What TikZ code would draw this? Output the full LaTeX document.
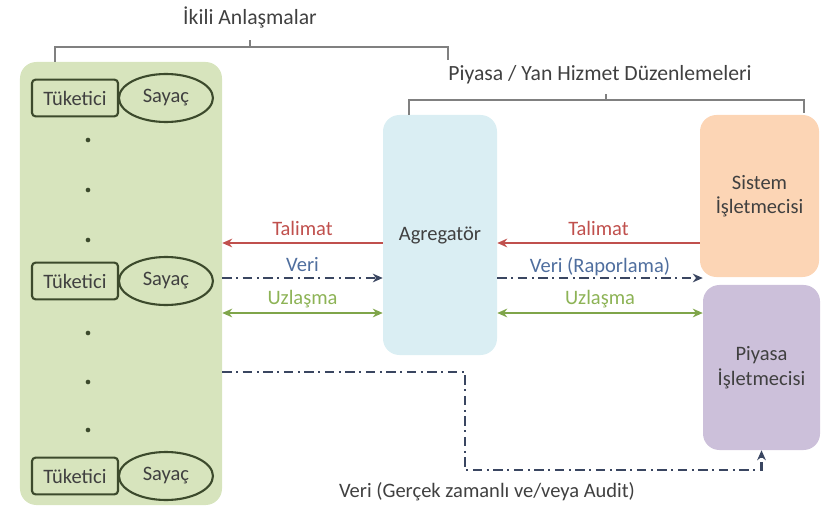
\documentclass[tikz,border=0pt]{standalone}
\usepackage{fontspec}
\setmainfont{Carlito}
\usetikzlibrary{arrows.meta, shapes.geometric, positioning}
\definecolor{grpfill}{HTML}{D7E4BD}
\definecolor{dkolive}{HTML}{3C4A2C}
\definecolor{agrfill}{HTML}{DAEEF3}
\definecolor{sisfill}{HTML}{FCD5B5}
\definecolor{piyfill}{HTML}{CCC0DA}
\definecolor{talred}{HTML}{C0504D}
\definecolor{verinavy}{HTML}{3A4661}
\definecolor{veritxt}{HTML}{4F6E9E}
\definecolor{uzlgreen}{HTML}{7FA54A}
\definecolor{uzltxt}{HTML}{8DB356}
\definecolor{brkgray}{HTML}{808080}
\definecolor{txtgray}{HTML}{404040}
\tikzset{
  % the big rounded panels
  panel/.style  = {rounded corners=14pt, inner sep=0pt, font=\fontsize{17.5}{21}\selectfont,
                   text=txtgray, align=center},
  % consumer box and its meter
  tk/.style     = {draw=dkolive, line width=1.8pt, rounded corners=3pt, inner sep=0pt,
                   minimum width=2.58cm, minimum height=1.1cm, text=txtgray,
                   font=\fontsize{17.5}{21}\selectfont},
  sy/.style     = {draw=dkolive, line width=1.8pt, ellipse, inner sep=0pt,
                   minimum width=2.82cm, minimum height=1.44cm, text=txtgray,
                   font=\fontsize{17.5}{21}\selectfont},
  % the brackets on top
  brk/.style    = {draw=brkgray, line width=1.1pt},
  ttl/.style    = {font=\fontsize{18.5}{22}\selectfont, text=txtgray},
  % the flows
  tal/.style    = {-{Stealth[length=3mm,width=2.6mm]}, talred, line width=2pt},
  veri/.style   = {-{Stealth[length=3mm,width=2.6mm]}, verinavy, line width=2.3pt,
                   dash pattern=on 8pt off 4pt on 1.5pt off 4pt},
  uzl/.style    = {{Stealth[length=3mm,width=2.6mm]}-{Stealth[length=3mm,width=2.6mm]},
                   uzlgreen, line width=2pt},
  lbl/.style    = {font=\fontsize{17.5}{21}\selectfont, inner sep=1pt},
}
\begin{document}
\begin{tikzpicture}[x=0.03cm, y=-0.03cm]
  \useasboundingbox (0,0) rectangle (823,510);
  % panels
  \node[panel, fill=grpfill, minimum width=6.06cm, minimum height=13.29cm] (cons) at (121,283.5) {};
  \node[panel, fill=agrfill, minimum width=3.42cm, minimum height=7.2cm]   (agr)  at (440,235)   {Agregatör};
  \node[panel, fill=sisfill, minimum width=3.57cm, minimum height=4.86cm]  (sis)  at (759.5,196) {Sistem\\İşletmecisi};
  \node[panel, fill=piyfill, minimum width=3.51cm, minimum height=4.95cm]  (piy)  at (761.5,367.5) {Piyasa\\İşletmecisi};
  % consumers with meters
  \foreach \r/\y in {a/98, b/281, c/476} {
    \node[tk] (tk\r) at (75,\y) {Tüketici};
    \node[sy, anchor=west] (sy\r) at ([xshift=-1pt]tk\r.east) {Sayaç};
  }
  \foreach \y in {140,190,240,333,382,430}
    \fill[dkolive] (88,\y) circle (2pt);
  % brackets
  \node[ttl] (tI) at (250,17) {İkili Anlaşmalar};
  \draw[brk] (55,62) |- (448,47) -- (448,60);
  \draw[brk] (250,47) -- (250,40);
  \node[ttl] (tP) at (600,75) {Piyasa / Yan Hizmet Düzenlemeleri};
  \draw[brk] (409,115) |- (804,100) -- (804,113);
  \draw[brk] (606,100) -- (606,94);
  % flows between consumers and aggregator
  \draw[tal]  (agr.west |- 0,243) -- node[lbl, above=4pt, text=talred]  {Talimat} (cons.east |- 0,243);
  \draw[veri] (cons.east |- 0,278) -- node[lbl, above=3pt, text=veritxt] {Veri}    (agr.west |- 0,278);
  \draw[uzl]  (cons.east |- 0,313) -- node[lbl, above=2pt, text=uzltxt]  {Uzlaşma} (agr.west |- 0,313);
  % flows between aggregator and operators
  \draw[tal]  (sis.west |- 0,243) -- node[lbl, above=4pt, text=talred]  {Talimat} (agr.east |- 0,243);
  \draw[veri] (agr.east |- 0,278) -- node[lbl, above=0pt, text=veritxt] {Veri (Raporlama)} (piy.west |- 0,278);
  \draw[uzl]  (agr.east |- 0,313) -- node[lbl, above=2pt, text=uzltxt]  {Uzlaşma} (piy.west |- 0,313);
  % direct metering data to the market operator
  \coordinate (dn) at (465,470);
  \draw[veri] (cons.east |- 0,372) -| (dn) -| (piy.south);
  \node[lbl, text=txtgray] (lreal) at (487,492) {Veri (Gerçek zamanlı ve/veya Audit)};
\end{tikzpicture}
\end{document}
